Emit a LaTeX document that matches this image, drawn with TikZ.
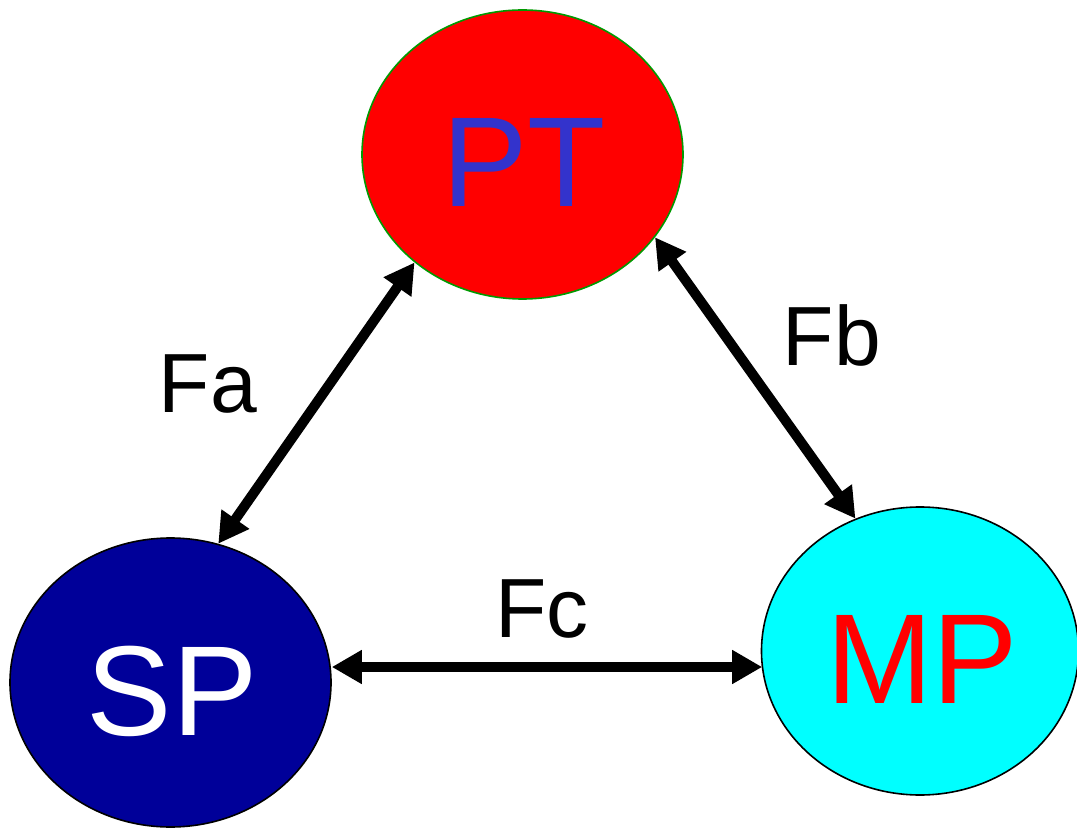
\documentclass[tikz,border=0pt]{standalone}
\usepackage{fontspec}
\setmainfont{Liberation Sans}
\usetikzlibrary{shapes.geometric,arrows.meta}
\definecolor{ptred}{RGB}{255,0,0}
\definecolor{ptedge}{RGB}{0,153,0}
\definecolor{pttext}{RGB}{51,51,204}
\definecolor{spblue}{RGB}{0,0,153}
\definecolor{mpcyan}{RGB}{0,255,255}
\tikzset{
  party/.style={ellipse,inner sep=0pt,line width=1.6pt,minimum width=321pt,minimum height=289pt},
  bigtext/.style={font=\fontsize{128}{130}\selectfont,anchor=base,inner sep=0pt},
  flowlabel/.style={font=\fontsize{84}{90}\selectfont,anchor=base,inner sep=0pt},
  flowline/.style={draw=black,line width=10pt,arrows={Triangle[length=30pt,width=32pt]-Triangle[length=30pt,width=32pt]}}
}
\begin{document}
\begin{tikzpicture}[x=1pt,y=-1pt]
  \useasboundingbox (0,0) rectangle (1077,829);
  % the three parties
  \node[party,draw=ptedge,fill=ptred] (PT) at (522.5,154.5) {};
  \node[party,draw=black,fill=spblue] (SP) at (170.5,682.5) {};
  \node[party,draw=black,fill=mpcyan,minimum width=317pt,minimum height=288pt] (MP) at (920,651) {};
  \node[bigtext,text=pttext] (PTt) at (524,207) {PT};
  \node[bigtext,text=white] (SPt) at (172,735) {SP};
  \node[bigtext,text=ptred] (MPt) at (922,703) {MP};
  % flows between them
  \path[flowline] (PT.225) -- (SP.71);
  \path[flowline] (PT.-32) -- (MP.116);
  \path[flowline] ([yshift=15.5pt]SP.east) -- ([yshift=15.5pt,xshift=1.5pt]SP.east -| MP.west);
  \node[flowlabel] (Fa) at (208,412) {Fa};
  \node[flowlabel] (Fb) at (832,365) {Fb};
  \node[flowlabel] (Fc) at (542,637) {Fc};
\end{tikzpicture}
\end{document}
